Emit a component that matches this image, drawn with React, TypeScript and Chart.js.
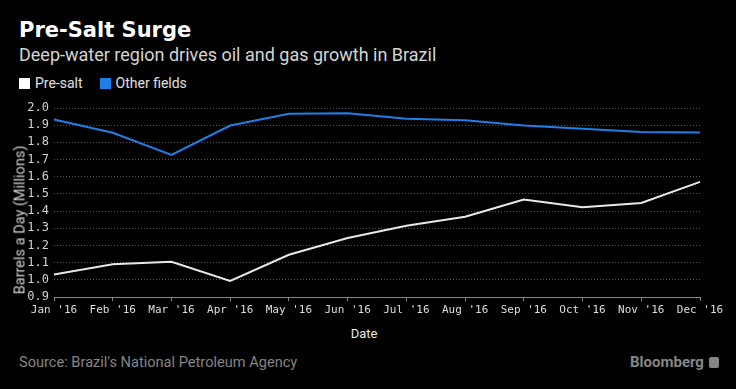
import React, { useEffect, useRef } from "react";
import { Chart, registerables } from "chart.js";

Chart.register(...registerables);

const months = ["Jan '16", "Feb '16", "Mar '16", "Apr '16", "May '16", "Jun '16", "Jul '16", "Aug '16", "Sep '16", "Oct '16", "Nov '16", "Dec '16"];
const preSalt = [1.031, 1.091, 1.105, 0.994, 1.146, 1.243, 1.315, 1.367, 1.467, 1.422, 1.447, 1.570];
const otherFields = [1.933, 1.856, 1.727, 1.898, 1.967, 1.969, 1.937, 1.928, 1.898, 1.879, 1.860, 1.858];
const yMin = 0.9;
const yMax = 2.0;

const BLUE = "#1f7fe6";
const WHITE = "#e8e8e8";

export default function App() {
  const ref = useRef<HTMLCanvasElement | null>(null);

  useEffect(() => {
    document.body.style.margin = "0";
    document.body.style.background = "#000";
    const canvas = ref.current;
    if (!canvas) return;
    const chart = new Chart(canvas, {
      type: "line",
      data: {
        labels: months,
        datasets: [
          { label: "Pre-salt", data: preSalt, borderColor: WHITE, borderWidth: 2, pointRadius: 0, tension: 0 },
          { label: "Other fields", data: otherFields, borderColor: BLUE, borderWidth: 2, pointRadius: 0, tension: 0 },
        ],
      },
      options: {
        animation: false,
        responsive: false,
        maintainAspectRatio: false,
        layout: { padding: { top: 13, right: 36, left: 0, bottom: 0 } },
        plugins: { legend: { display: false }, tooltip: { enabled: false } },
        scales: {
          x: {
            offset: false,
            grid: { drawOnChartArea: false, drawTicks: true, tickLength: 4, color: "#8a8a8a" },
            border: { display: true, color: "#8a8a8a", width: 1 },
            ticks: { color: "#dedede", font: { family: "DejaVu Sans Mono", size: 11 }, padding: 3, maxRotation: 0, autoSkip: false },
            afterFit: (s: any) => { s.height = 28; },
          },
          y: {
            min: yMin,
            max: yMax,
            grid: {
              drawTicks: false,
              color: (ctx: any) => (ctx.tick && Math.abs(ctx.tick.value - yMin) < 1e-6 ? "rgba(0,0,0,0)" : "#555555"),
              lineWidth: 1,
            },
            border: { display: false, dash: [1, 2] },
            ticks: {
              stepSize: 0.1,
              autoSkip: false,
              color: "#d0d0d0",
              font: { family: "DejaVu Sans Mono", size: 12 },
              padding: 5,
              callback: (v: any) => Number(v).toFixed(1),
            },
            afterFit: (s: any) => { s.width = 54; },
          },
        },
      },
    });
    return () => chart.destroy();
  }, []);

  return (
    <div style={{ position: "fixed", left: 0, top: 0, width: 736, height: 389, background: "#000", overflow: "hidden", fontFamily: "Roboto, sans-serif" }}>
      <div style={{ position: "absolute", left: 19, top: 17, color: "#fff", fontWeight: 700, fontSize: 21, fontFamily: "'DejaVu Sans', sans-serif", lineHeight: "26px" }}>Pre-Salt Surge</div>
      <div style={{ position: "absolute", left: 19, top: 44, color: "#d4d4d4", fontSize: 18, lineHeight: "22px" }}>Deep-water region drives oil and gas growth in Brazil</div>
      <div style={{ position: "absolute", left: 19, top: 75, display: "flex", alignItems: "center", fontSize: 14, color: "#e0e0e0", lineHeight: "16px" }}>
        <span style={{ display: "inline-block", width: 11, height: 11, background: "#fff", marginRight: 5 }} />
        <span style={{ marginRight: 17 }}>Pre-salt</span>
        <span style={{ display: "inline-block", width: 11, height: 11, background: BLUE, marginRight: 5 }} />
        <span>Other fields</span>
      </div>
      <canvas ref={ref} width={736} height={230} style={{ position: "absolute", left: 0, top: 95, width: 736, height: 230 }} />
      <div style={{ position: "absolute", left: 20, top: 220, width: 0, height: 0 }}>
        <div style={{ position: "absolute", left: 0, top: 0, transform: "translate(-50%, -50%) rotate(-90deg)", whiteSpace: "nowrap", color: "#d0d0d0", fontSize: 14.5 }}>Barrels a Day (Millions)</div>
      </div>
      <div style={{ position: "absolute", left: 364, top: 333, transform: "translate(-50%, -50%)", color: "#e8e8e8", fontSize: 13 }}>Date</div>
      <div style={{ position: "absolute", left: 19, top: 352, color: "#858585", fontSize: 14.6, lineHeight: "20px" }}>Source: Brazil's National Petroleum Agency</div>
      <div style={{ position: "absolute", left: 630, top: 352, color: "#858585", fontSize: 15, fontWeight: 700, lineHeight: "20px", display: "flex", alignItems: "center" }}>
        <span>Bloomberg</span>
        <span style={{ display: "inline-block", width: 10, height: 11, background: "#858585", borderRadius: 2, marginLeft: 5 }} />
      </div>
    </div>
  );
}
